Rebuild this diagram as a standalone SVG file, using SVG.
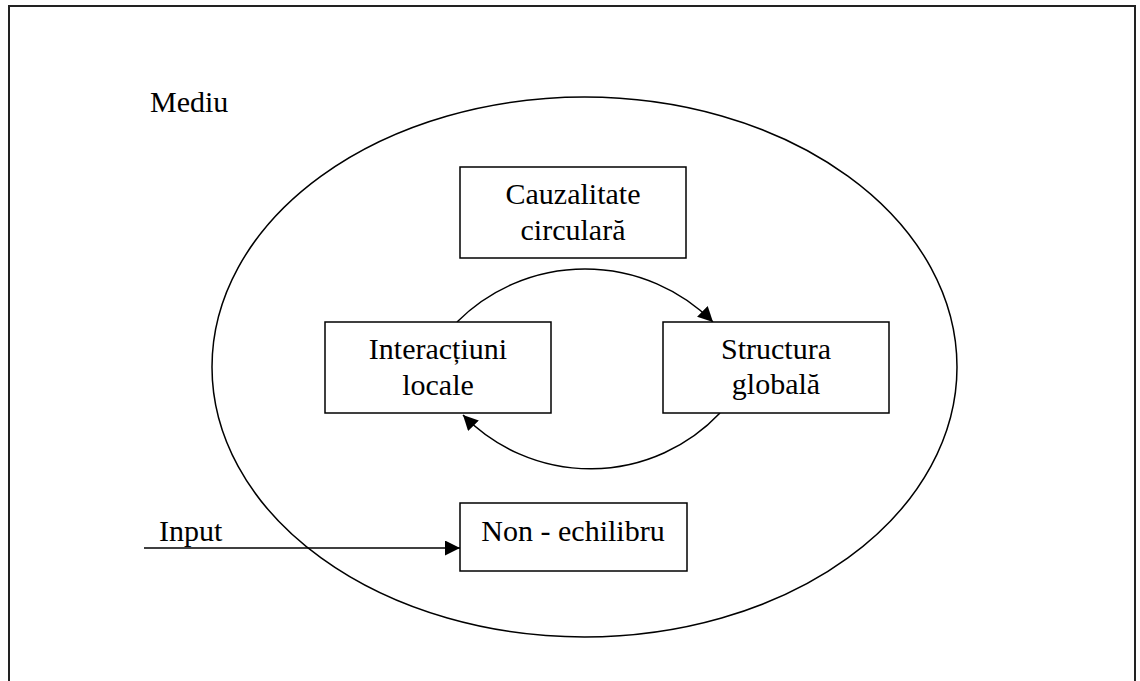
<svg xmlns="http://www.w3.org/2000/svg" width="1140" height="681" viewBox="0 0 1140 681">
<style>
  .box { fill: #fff; stroke: #000; stroke-width: 1.5; }
  .lbl { font-family: "Liberation Serif", "Times New Roman", serif; font-size: 30px; fill: #000; }
  .mid { text-anchor: middle; }
  .conn { fill: none; stroke: #000; stroke-width: 1.5; }
</style>
<defs>
  <marker id="arr" markerUnits="userSpaceOnUse" markerWidth="15" markerHeight="15" viewBox="0 0 15 15" refX="15" refY="7.5" orient="auto">
    <path d="M0,0 L15,7.5 L0,15 z" fill="#000"/>
  </marker>
</defs>
<rect width="1140" height="681" fill="#fff"/>
<rect x="9" y="6" width="1126" height="700" fill="none" stroke="#222" stroke-width="2"/>
<text class="lbl" x="150" y="112">Mediu</text>
<g id="environment">
  <ellipse cx="584.5" cy="367" rx="372.5" ry="270" fill="none" stroke="#000" stroke-width="1.5"/>
</g>
<g id="connectors">
  <path class="conn" d="M457,322 A181,181 0 0 1 713,322" marker-end="url(#arr)"/>
  <path class="conn" d="M720,413 A178,178 0 0 1 463,415" marker-end="url(#arr)"/>
  <line class="conn" x1="144" y1="548" x2="460" y2="548" marker-end="url(#arr)"/>
  <text class="lbl" x="159" y="541">Input</text>
</g>
<g id="cauzalitate">
  <rect class="box" x="460" y="167" width="226" height="91"/>
  <text class="lbl mid" x="573" y="204">Cauzalitate</text>
  <text class="lbl mid" x="573" y="240">circulară</text>
</g>
<g id="interactiuni">
  <rect class="box" x="325" y="322" width="226" height="91"/>
  <text class="lbl mid" x="438" y="359">Interacțiuni</text>
  <text class="lbl mid" x="438" y="395">locale</text>
</g>
<g id="structura">
  <rect class="box" x="663" y="322" width="226" height="91"/>
  <text class="lbl mid" x="776" y="359">Structura</text>
  <text class="lbl mid" x="776" y="394">globală</text>
</g>
<g id="nonechilibru">
  <rect class="box" x="460" y="503" width="227" height="68"/>
  <text class="lbl mid" x="573" y="541">Non - echilibru</text>
</g>
</svg>
